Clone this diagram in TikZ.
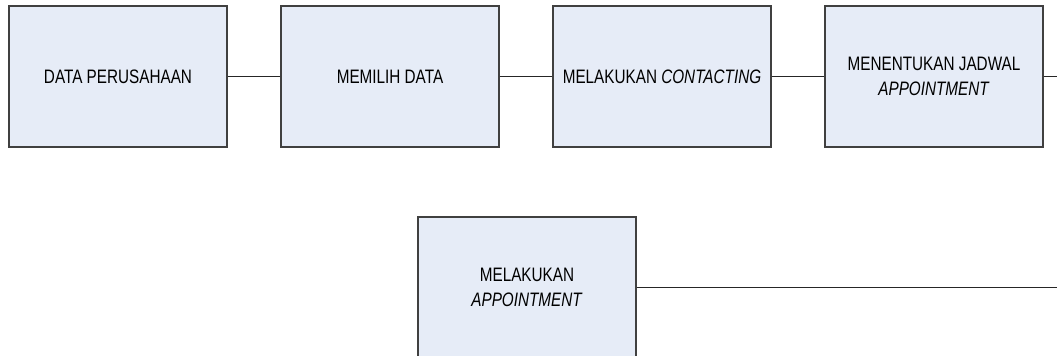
\documentclass[tikz,border=0pt]{standalone}
\usepackage{fontspec}
\setmainfont{Liberation Sans}[FakeStretch=0.785]
\begin{document}
\begin{tikzpicture}[x=0.75pt,y=-0.75pt,
  procbox/.style={draw=black!75, line width=1.1pt, fill=boxfill, minimum width=163.5pt, minimum height=105.75pt, inner sep=2pt, align=center, font=\fontsize{14.6pt}{18.8pt}\selectfont},
  conn/.style={draw=black!85, line width=0.8pt}]
\definecolor{boxfill}{HTML}{E6ECF7}
\useasboundingbox (0,0) rectangle (1057,356);
\clip (0,0) rectangle (1057,356);
\node[procbox] (b1) at (118,76.5) {DATA PERUSAHAAN};
\node[procbox] (b2) at (390,76.5) {MEMILIH DATA};
\node[procbox] (b3) at (662,76.5) {MELAKUKAN \textit{CONTACTING}};
\node[procbox] (b4) at (934,76.5) {MENENTUKAN JADWAL\\\textit{APPOINTMENT}};
\node[procbox] (b5) at (527,287.5) {MELAKUKAN\\\textit{APPOINTMENT}};
\coordinate (e1) at (1060,76.5);
\coordinate (e2) at (1060,287.5);
\draw[conn] (b1) -- (b2);
\draw[conn] (b2) -- (b3);
\draw[conn] (b3) -- (b4);
\draw[conn] (b4) -- (e1);
\draw[conn] (b5) -- (e2);
\end{tikzpicture}
\end{document}
